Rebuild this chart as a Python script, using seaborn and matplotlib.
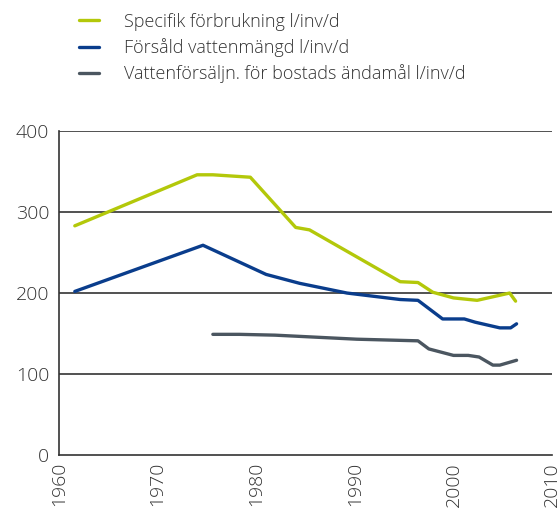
import pandas as pd
import seaborn as sns
import matplotlib.pyplot as plt

# Values (l/inv/d)
spec_years = [1961.6, 1974.0, 1975.6, 1979.4, 1984.0, 1985.4, 1994.6, 1996.4, 1997.9, 2000.0, 2002.4, 2005.7, 2006.3]
spec_vals = [283, 346, 346, 343, 281, 278, 214, 213, 201, 194, 191, 200, 190]

sold_years = [1961.6, 1974.6, 1979.4, 1981.0, 1984.4, 1989.2, 1994.6, 1996.4, 1998.9, 2001.1, 2002.2, 2004.7, 2005.8, 2006.4]
sold_vals = [202, 259, 232, 223, 212, 200, 192, 191, 168, 168, 164, 157, 157, 162]

home_years = [1975.6, 1978.3, 1981.9, 1990.2, 1996.4, 1997.5, 2000.0, 2001.5, 2002.6, 2004.0, 2004.7, 2006.4]
home_vals = [149, 149, 148, 143, 141, 131, 123, 123, 121, 111, 111, 117]

labels = ["Specifik förbrukning l/inv/d",
          "Försåld vattenmängd l/inv/d",
          "Vattenförsäljn. för bostads ändamål l/inv/d"]
colors = ["#b3c80a", "#0a3d8c", "#4b5660"]

df = pd.concat([
    pd.DataFrame({"år": spec_years, "värde": spec_vals, "serie": labels[0]}),
    pd.DataFrame({"år": sold_years, "värde": sold_vals, "serie": labels[1]}),
    pd.DataFrame({"år": home_years, "värde": home_vals, "serie": labels[2]}),
])

sns.set_style("white")
plt.rcParams["font.family"] = ["Open Sans", "DejaVu Sans"]

fig = plt.figure(figsize=(5.59, 5.08), dpi=100)
ax = fig.add_axes([0.1056, 0.1043, 0.882, 0.6377])

sns.lineplot(data=df, x="år", y="värde", hue="serie", palette=colors,
             hue_order=labels, linewidth=2.4, ax=ax, legend=False)

ax.set_xlim(1960, 2010)
ax.set_ylim(0, 400)
ax.set_xticks([1960, 1970, 1980, 1990, 2000, 2010])
ax.set_yticks([0, 100, 200, 300, 400])
ax.set_xlabel("")
ax.set_ylabel("")
ax.tick_params(axis="x", labelrotation=90, labelsize=14, colors="#333333", length=0, pad=5)
ax.tick_params(axis="y", labelsize=14, colors="#333333", length=0, pad=7)
for lbl in ax.get_xticklabels() + ax.get_yticklabels():
    lbl.set_fontweight("light")

ax.grid(False)
for y in [100, 200, 300, 400]:
    ax.axhline(y, color="#333333", linewidth=1.2, zorder=0)
for side in ["top", "right"]:
    ax.spines[side].set_visible(False)
for side in ["left", "bottom"]:
    ax.spines[side].set_color("#333333")
    ax.spines[side].set_linewidth(1.2)

handles = [plt.Line2D([], [], color=c, linewidth=2.4) for c in colors]
leg = fig.legend(handles, labels, loc="upper left", bbox_to_anchor=(0.113, 1.007),
                 frameon=False, handlelength=1.1, handletextpad=1.35,
                 labelspacing=0.4, prop={"size": 13, "weight": "light"})
for t in leg.get_texts():
    t.set_color("#333333")

fig.savefig("out.png", dpi=100)
